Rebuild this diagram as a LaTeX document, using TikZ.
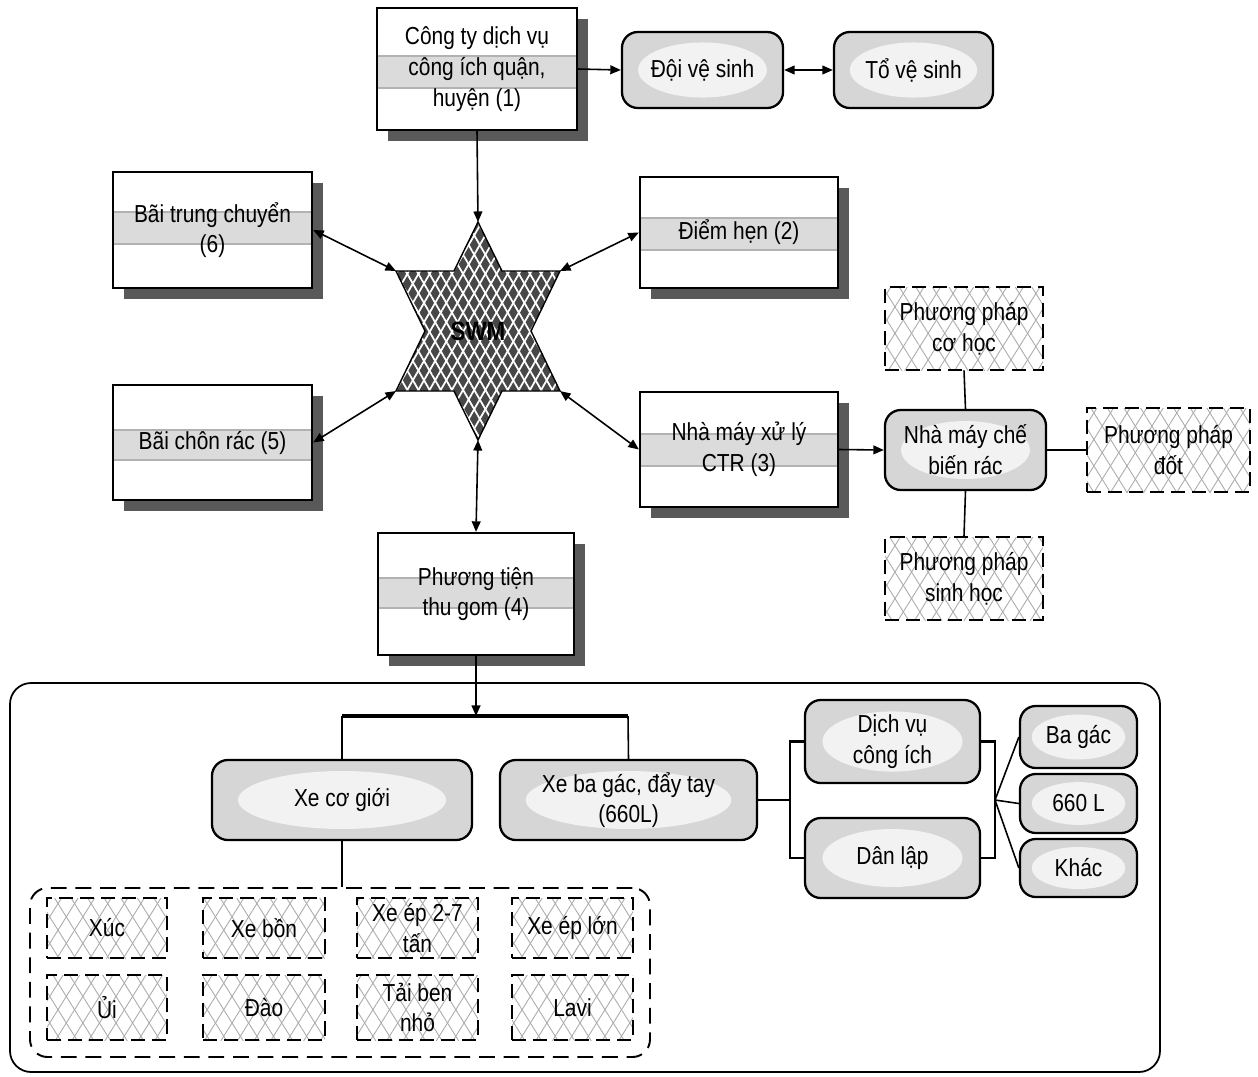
\documentclass[tikz,border=0pt]{standalone}
\usepackage{fontspec}
\setmainfont{Liberation Sans}[FakeStretch=0.85]
\usetikzlibrary{arrows.meta,patterns.meta,fit,shapes.geometric,calc}

\tikzset{
 x=0.02cm, y=-0.02cm,
 txt/.style={align=center,font=\fontsize{14}{17.5}\selectfont,inner sep=0pt},
 arr/.style={line width=0.9pt,-{Triangle[length=6pt,width=5pt]}},
 darr/.style={line width=0.9pt,{Triangle[length=6pt,width=5pt]}-{Triangle[length=6pt,width=5pt]}},
 ln/.style={line width=0.9pt},
 thk/.style={line width=2.4pt},
 bk/.style={line width=1.5pt},
 gbox/.style={draw,line width=1.3pt,rounded corners=9pt,fill=gray!32,inner sep=0pt},
 pbox/.style={draw,line width=1.2pt,dash pattern=on 8pt off 4pt,inner sep=0pt,
   preaction={fill=white},
   preaction={pattern={Lines[angle=58,distance=8pt,line width=0.5pt]},pattern color=gray!65},
   pattern={Lines[angle=-58,distance=8pt,line width=0.5pt]},pattern color=gray!65},
}

\newcommand{\shbox}[8]{%
 \fill[black!65] (#2+11,#3+11) rectangle (#4+11,#5+11);
 \node[draw,line width=1.3pt,fill=white,inner sep=0pt,fit={(#2,#3) (#4,#5)}] (#1) {};
 \fill[gray!28] (#2,#6) rectangle (#4,#7);
 \draw[gray!60,line width=0.6pt] (#2,#6) -- (#4,#6) (#2,#7) -- (#4,#7);
 \draw[line width=1.3pt] (#2,#3) rectangle (#4,#5);
 \node[txt] at (#1.center) {#8};
}
\newcommand{\gbox}[6]{%
 \node[gbox,fit={(#2,#3) (#4,#5)}] (#1) {};
 \node[ellipse,fill=gray!10,inner sep=0pt,minimum width={(#4-#2)*0.016cm},minimum height={(#5-#3)*0.0145cm}] at (#1.center) {};
 \node[txt] at (#1.center) {#6};
}
\newcommand{\pbox}[6]{%
 \node[pbox,fit={(#2,#3) (#4,#5)}] (#1) {};
 \node[txt] at (#1.center) {#6};
}

\begin{document}
\begin{tikzpicture}
\useasboundingbox (0,0) rectangle (1258,1076);

% bottom container
\node[draw,line width=1pt,rounded corners=12pt,inner sep=0pt,fit={(10,683) (1160,1072)}] (cont) {};
\node[draw,line width=1.1pt,dash pattern=on 9pt off 5pt,rounded corners=10pt,inner sep=0pt,fit={(30,888) (650,1057)}] (grp) {};

% shadow boxes
\shbox{box1}{377}{8}{577}{130}{56}{88}{Công ty dịch vụ\\công ích quận,\\huyện (1)}
\shbox{b6}{113}{172}{312}{288}{212}{244}{Bãi trung chuyển\\(6)}
\shbox{b2}{640}{177}{838}{288}{218}{250}{Điểm hẹn (2)}
\shbox{b5}{113}{385}{312}{500}{430}{460}{Bãi chôn rác (5)}
\shbox{b3}{640}{392}{838}{507}{434}{466}{Nhà máy xử lý\\CTR (3)}
\shbox{b4}{378}{533}{574}{655}{578}{608}{Phương tiện\\thu gom (4)}

% gray rounded boxes
\gbox{doi}{622}{32}{783}{108}{Đội vệ sinh}
\gbox{to}{834}{32}{993}{108}{Tổ vệ sinh}
\gbox{chebien}{885}{410}{1046}{490}{Nhà máy chế\\biến rác}
\gbox{xcg}{212}{760}{472}{840}{Xe cơ giới}
\gbox{xbg}{500}{760}{757}{840}{Xe ba gác, đẩy tay\\(660L)}
\gbox{dv}{805}{700}{980}{783}{Dịch vụ\\công ích}
\gbox{dl}{805}{818}{980}{898}{Dân lập}
\gbox{bag}{1020}{706}{1137}{768}{Ba gác}
\gbox{l660}{1020}{774}{1137}{833}{660 L}
\gbox{khac}{1020}{839}{1137}{897}{Khác}

% pattern boxes
\pbox{cohoc}{885}{287}{1043}{370}{Phương pháp\\cơ học}
\pbox{sinhhoc}{885}{537}{1043}{620}{Phương pháp\\sinh học}
\pbox{dot}{1087}{408}{1250}{492}{Phương pháp\\đốt}
\pbox{xuc}{47}{898}{167}{958}{Xúc}
\pbox{xebon}{203}{898}{325}{958}{Xe bồn}
\pbox{xeep}{357}{898}{478}{958}{Xe ép 2-7\\tấn}
\pbox{xeeplon}{512}{898}{633}{958}{Xe ép lớn}
\pbox{ui}{47}{975}{167}{1040}{Ủi}
\pbox{dao}{203}{975}{325}{1040}{Đào}
\pbox{taiben}{357}{975}{478}{1040}{Tải ben\\nhỏ}
\pbox{lavi}{512}{975}{633}{1040}{Lavi}

% star
\coordinate (st-top) at (478,222);
\coordinate (st-bot) at (478,440);
\coordinate (st-tl) at (396,271);
\coordinate (st-tr) at (560,271);
\coordinate (st-bl) at (396,391);
\coordinate (st-br) at (560,391);
\def\starpath{(st-top) -- (502,271) -- (st-tr) -- (531,331) -- (st-br) -- (502,391) -- (st-bot) -- (454,391) -- (st-bl) -- (425,331) -- (st-tl) -- (454,271) -- cycle}
\fill[black!72] \starpath;
\fill[pattern={Lines[angle=60,distance=5.5pt,line width=1pt]},pattern color=white] \starpath;
\fill[pattern={Lines[angle=-60,distance=5.5pt,line width=1pt]},pattern color=white] \starpath;
\draw[line width=0.8pt] \starpath;
\node[txt,font=\fontsize{15}{17}\selectfont\bfseries] (swm) at (478,331) {SWM};

% connectors
\draw[arr] (box1.south) -- (st-top);
\draw[arr] (box1.east) -- (doi.west);
\draw[darr] (doi.east) -- (to.west);
\draw[darr] (b6.east) -- (st-tl);
\draw[darr] (b2.west) -- (st-tr);
\draw[darr] (b5.east) -- (st-bl);
\draw[darr] (b3.west) -- (st-br);
\draw[darr] (b4.north) -- (st-bot);
\draw[arr] (b3.east) -- (chebien.west);
\draw[ln] (chebien.north) -- (cohoc.south);
\draw[ln] (chebien.south) -- (sinhhoc.north);
\draw[ln] (chebien.east) -- (dot.west);

\coordinate (barL) at (342,716);
\coordinate (barR) at (628,716);
\draw[arr] (b4.south) -- (b4.south |- barL);
\draw[thk] (barL) -- (barR);
\draw[ln] (barL) -- (xcg.north);
\draw[ln] (barR) -- (xbg.north);
\draw[ln] (xcg.south) -- (xcg.south |- grp.north);

\coordinate (bk1) at (790,800);
\coordinate (bk2) at (995,800);
\draw[ln] (xbg.east) -- (bk1);
\draw[bk] (dv.west) -- (dv.west -| bk1) -- (dl.west -| bk1) -- (dl.west);
\draw[bk] (dv.east) -- (dv.east -| bk2) -- (dl.east -| bk2) -- (dl.east);
\draw[ln] (bk2) -- (bag.west);
\draw[ln] (bk2) -- (l660.west);
\draw[ln] (bk2) -- (khac.west);
\end{tikzpicture}
\end{document}
